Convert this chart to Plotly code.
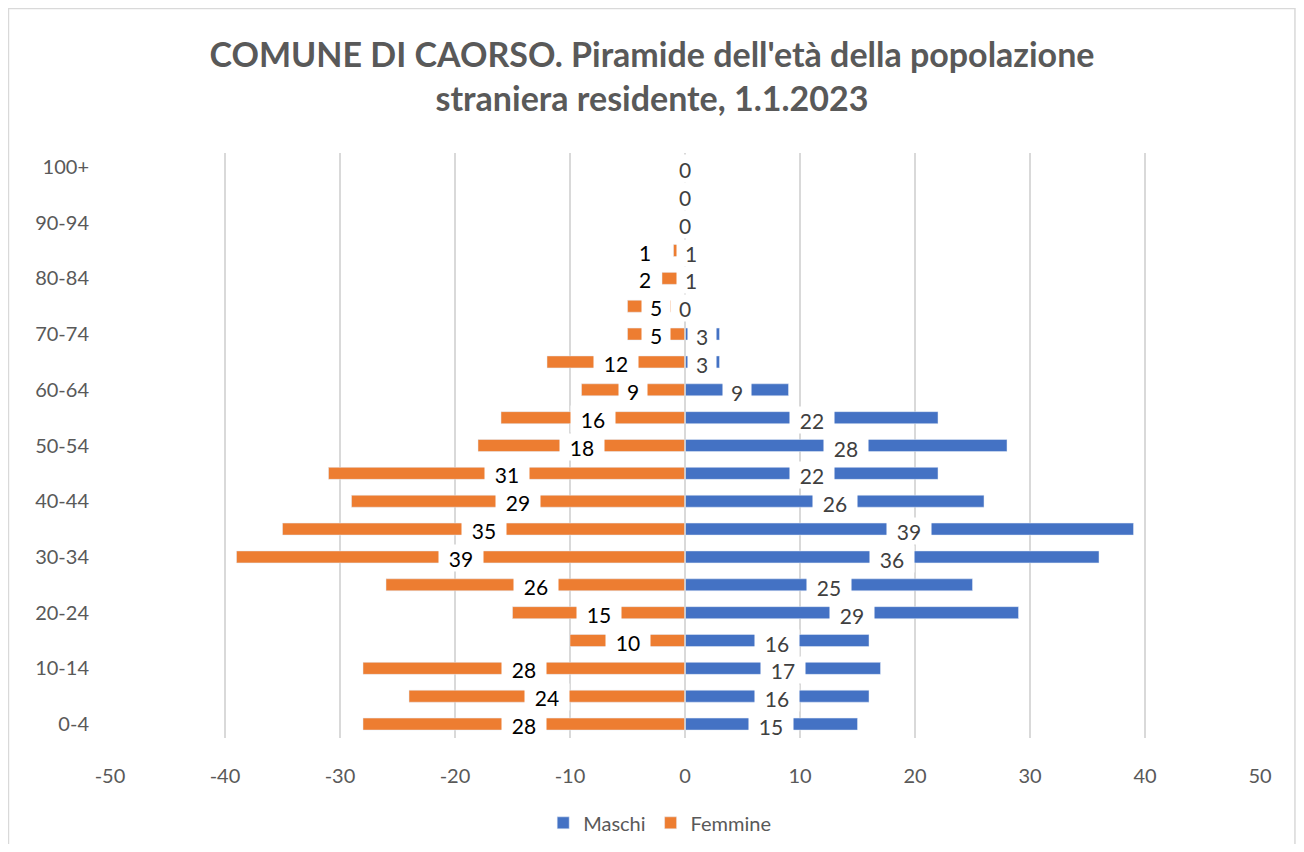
import plotly.graph_objects as go

# age classes, bottom to top
eta = ["0-4", "5-9", "10-14", "15-19", "20-24", "25-29", "30-34", "35-39",
       "40-44", "45-49", "50-54", "55-59", "60-64", "65-69", "70-74", "75-79",
       "80-84", "85-89", "90-94", "95-99", "100+"]
maschi = [15, 16, 17, 16, 29, 25, 36, 39, 26, 22, 28, 22, 9, 3, 3, 0, 1, 1, 0, 0, 0]
femmine = [28, 24, 28, 10, 15, 26, 39, 35, 29, 31, 18, 16, 9, 12, 5, 5, 2, 1, 0, 0, 0]
x_ticks = [-50, -40, -30, -20, -10, 0, 10, 20, 30, 40, 50]

titolo = "COMUNE DI CAORSO. Piramide dell'età della popolazione<br>straniera residente, 1.1.2023"

BLU = "#4472C4"
ARANCIO = "#ED7D31"
GRIGIO = "#595959"
BORDO = "#D9D9D9"
FONT = "Lato"

fig = go.Figure()
fig.add_trace(go.Bar(y=eta, x=maschi, orientation="h", name="Maschi",
                     marker_color=BLU, width=0.43))
fig.add_trace(go.Bar(y=eta, x=[-v for v in femmine], orientation="h", name="Femmine",
                     marker_color=ARANCIO, width=0.43))


def box_w(txt):
    # excel label box is quite a bit wider than the text
    return 16 * len(txt) + 10


# value labels with white box, centred on each bar (like excel)
ann = []
for i, v in enumerate(femmine):
    fx = -v / 2
    mx = maschi[i] / 2
    # excel pushes the label away when it would overlap the other one
    if (v or maschi[i]) and abs(mx - fx) < 2.5:
        fx = mx - 4
    ann.append(dict(x=fx, y=eta[i], text=str(v), showarrow=False,
                    bgcolor="white", borderpad=1, width=box_w(str(v)), height=24,
                    yshift=-1, font=dict(family=FONT, size=21, color="#000000")))
for i, v in enumerate(maschi):
    ann.append(dict(x=v / 2, y=eta[i], text=str(v), showarrow=False,
                    bgcolor="white", borderpad=1, width=box_w(str(v)), height=24,
                    yshift=-2, font=dict(family=FONT, size=21, color="#404040")))

# page body adds 8px margin, so the figure is 16px smaller than the window
fig.update_layout(
    width=1288, height=836,
    paper_bgcolor="white", plot_bgcolor="white",
    barmode="overlay",
    margin=dict(l=102, r=36, t=145, b=106, autoexpand=False),
    title=dict(text="<b>" + titolo + "</b>", x=0.5, xanchor="center",
               y=0.930, yanchor="top",
               font=dict(family=FONT, size=34, color=GRIGIO)),
    font=dict(family=FONT, color=GRIGIO),
    annotations=ann,
    legend=dict(orientation="h", x=0.478, xanchor="center", y=-0.145, yanchor="middle",
                font=dict(family=FONT, size=20, color=GRIGIO),
                traceorder="normal"),
    showlegend=True,
    shapes=[
        # chart area border (bottom side falls outside the window)
        dict(type="path", xref="paper", yref="paper",
             path="M -0.0883 -0.2 L -0.0883 1.2470 L 1.0304 1.2470 L 1.0304 -0.2",
             line=dict(color=BORDO, width=1.5), layer="below"),
        # vertical axis line at 0, drawn over the bars
        dict(type="line", xref="x", yref="paper", x0=0, x1=0, y0=0, y1=1,
             line=dict(color=BORDO, width=1.5), layer="above"),
    ],
)
fig.update_xaxes(range=[-50, 50], tickvals=x_ticks, ticktext=[str(t) for t in x_ticks],
                 showgrid=True, gridcolor=BORDO, gridwidth=1.5,
                 zeroline=False,
                 showline=False, ticks="", ticklabelstandoff=24, automargin=False,
                 tickfont=dict(family=FONT, size=20, color=GRIGIO))
fig.update_yaxes(type="category", categoryorder="array", categoryarray=eta,
                 range=[-0.5, 20.5],
                 tickvals=eta[::2], ticktext=eta[::2],
                 showgrid=False, showline=False, ticks="", ticklabelstandoff=20,
                 automargin=False,
                 tickfont=dict(family=FONT, size=20, color=GRIGIO))

fig.write_html("out.html")
